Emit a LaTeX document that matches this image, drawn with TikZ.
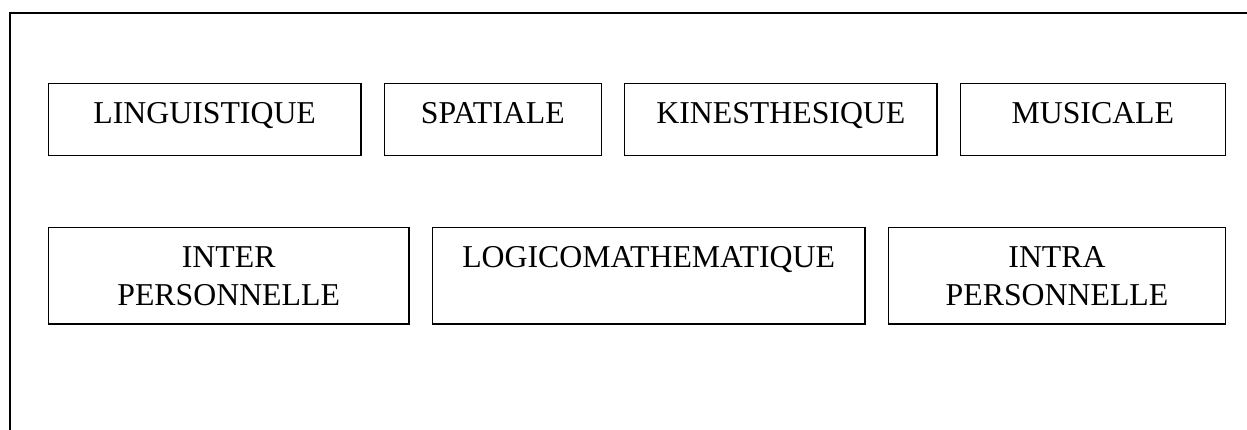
\documentclass[tikz,border=0pt]{standalone}
\usepackage{fontspec}
\setmainfont{Liberation Serif}
\begin{document}
\begin{tikzpicture}[x=1pt,y=-1pt,
  box/.style={draw=black,line width=1.2pt,inner sep=0pt},
  lbl/.style={inner sep=0pt,anchor=base,align=center,
    font=\fontsize{31.8}{38}\selectfont}]
\useasboundingbox (0,0) rectangle (1247,430);
% outer frame, open to the right and bottom
\draw[line width=1.5pt] (10,432) -- (10,13) -- (1249,13);
% first row of boxes
\node[box,minimum width=312.7pt,minimum height=72.4pt] (ling) at (204.65,119.5) {};
\node[box,minimum width=217pt,minimum height=72.4pt] (spat) at (492.8,119.5) {};
\node[box,minimum width=312.3pt,minimum height=72.4pt] (kine) at (780.85,119.5) {};
\node[box,minimum width=265pt,minimum height=72.4pt] (musi) at (1092.8,119.5) {};
\node[lbl] (tling) at (204.65,124) {LINGUISTIQUE};
\node[lbl] (tspat) at (492.8,124) {SPATIALE};
\node[lbl] (tkine) at (780.85,124) {KINESTHESIQUE};
\node[lbl] (tmusi) at (1092.8,124) {MUSICALE};
% second row of boxes
\node[box,minimum width=360.7pt,minimum height=96.3pt] (inter) at (228.65,275.85) {};
\node[box,minimum width=432.7pt,minimum height=96.3pt] (logi) at (648.65,275.85) {};
\node[box,minimum width=336.6pt,minimum height=96.3pt] (intra) at (1057,275.85) {};
\node[lbl] (tinter1) at (228.65,267.5) {INTER};
\node[lbl] (tinter2) at (228.65,305.5) {PERSONNELLE};
\node[lbl] (tlogi) at (648.65,268) {LOGICOMATHEMATIQUE};
\node[lbl] (tintra1) at (1057,267.5) {INTRA};
\node[lbl] (tintra2) at (1057,305.5) {PERSONNELLE};
\end{tikzpicture}
\end{document}
